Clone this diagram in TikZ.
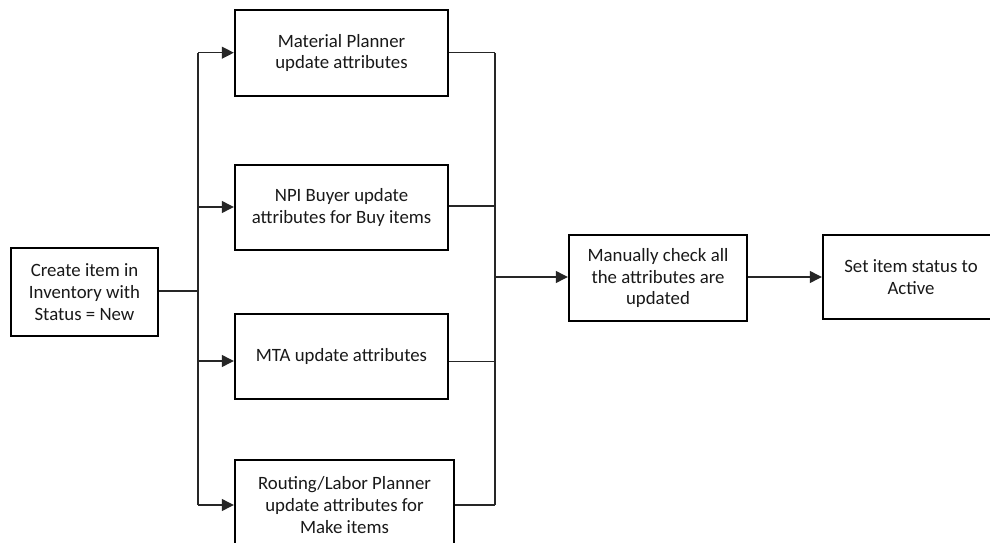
\documentclass[tikz,border=0pt]{standalone}
\usepackage{fontspec}
\setmainfont{Carlito}
\usetikzlibrary{arrows.meta}
\tikzset{
  box/.style={draw=black, line width=2.4pt, rectangle, align=center, inner sep=2pt,
    font=\fontsize{18.8}{21.7}\selectfont, text=black!90},
  conn/.style={draw=black!85, line width=1.2pt},
  arr/.style={conn, -{Triangle[length=12pt,width=12pt]}}
}
\begin{document}
\begin{tikzpicture}[x=1pt,y=-1pt]
\useasboundingbox (0,0) rectangle (990,543);
\clip (0,0) rectangle (990,543);
\fill[white] (0,0) rectangle (990,543);
% boxes
\node[box, minimum width=147pt, minimum height=88pt] (cr) at (84.5,292) {Create item in\\Inventory with\\Status = New};
\node[box, minimum width=213pt, minimum height=86pt] (mp) at (341.5,53) {Material Planner\\update attributes};
\node[box, minimum width=213pt, minimum height=85pt] (npi) at (341.5,207.5) {NPI Buyer update\\attributes for Buy items};
\node[box, minimum width=213pt, minimum height=85pt] (mta) at (341.5,356.5) {MTA update attributes};
\node[box, minimum width=219pt, minimum height=90pt] (rt) at (344.5,505) {Routing/Labor Planner\\update attributes for\\Make items};
\node[box, minimum width=178pt, minimum height=86pt] (mc) at (658,278) {Manually check all\\the attributes are\\updated};
\node[box, minimum width=176pt, minimum height=84pt] (st) at (911,277) {Set item status to\\Active};
% left trunk
\coordinate (t1) at (198,52.7);
\coordinate (t2) at (198,207);
\coordinate (t3) at (198,361);
\coordinate (t4) at (198,505);
\coordinate (tc) at (198,291);
\draw[conn] (t1) -- (t4);
\draw[conn] (cr.east |- tc) -- (tc);
\draw[arr] (t1) -- (t1 -| mp.west);
\draw[arr] (t2) -- (t2 -| npi.west);
\draw[arr] (t3) -- (t3 -| mta.west);
\draw[arr] (t4) -- (t4 -| rt.west);
% right collector
\coordinate (r1) at (495,52.7);
\coordinate (r2) at (495,206);
\coordinate (rc) at (495,277);
\coordinate (r3) at (495,361.5);
\coordinate (r4) at (495,505);
\draw[conn] (r1) -- (r4);
\draw[conn] (r1 -| mp.east) -- (r1);
\draw[conn] (r2 -| npi.east) -- (r2);
\draw[conn] (r3 -| mta.east) -- (r3);
\draw[conn] (r4 -| rt.east) -- (r4);
\draw[arr] (rc) -- (rc -| mc.west);
\draw[arr] (mc.east |- rc) -- (rc -| st.west);
\end{tikzpicture}
\end{document}
